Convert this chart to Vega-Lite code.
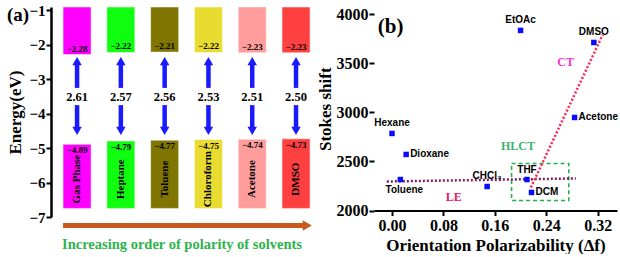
{
  "$schema": "https://vega.github.io/schema/vega-lite/v6.json",
  "padding": {"left": 6, "top": 3, "right": 0, "bottom": 0},
  "spacing": 4,
  "resolve": {"scale": {"color": "independent"}},
  "config": {
    "view": {"stroke": null},
    "font": "Liberation Serif",
    "axis": {"grid": false, "labelColor": "black", "titleColor": "black", "domainColor": "black", "tickColor": "black", "labelOverlap": false},
    "axisY": {"labelOverlap": false},
    "axisQuantitative": {"labelOverlap": false}
  },
  "datasets": {
    "levels": [
      {"solvent": "Gas Phase", "lumo": -2.28, "homo": -4.89, "gap": 2.61},
      {"solvent": "Heptane", "lumo": -2.22, "homo": -4.79, "gap": 2.57},
      {"solvent": "Toluene", "lumo": -2.21, "homo": -4.77, "gap": 2.56},
      {"solvent": "Chloroform", "lumo": -2.22, "homo": -4.75, "gap": 2.53},
      {"solvent": "Acetone", "lumo": -2.23, "homo": -4.74, "gap": 2.51},
      {"solvent": "DMSO", "lumo": -2.23, "homo": -4.73, "gap": 2.50}
    ],
    "stokes": [
      {"solvent": "Hexane", "df": 0.0, "shift": 2786},
      {"solvent": "Dioxane", "df": 0.022, "shift": 2572},
      {"solvent": "Toluene", "df": 0.013, "shift": 2316},
      {"solvent": "CHCl₃", "df": 0.148, "shift": 2245},
      {"solvent": "THF", "df": 0.21, "shift": 2316},
      {"solvent": "DCM", "df": 0.217, "shift": 2184},
      {"solvent": "Acetone", "df": 0.284, "shift": 2949},
      {"solvent": "DMSO", "df": 0.314, "shift": 3714},
      {"solvent": "EtOAc", "df": 0.2, "shift": 3837}
    ],
    "le": [{"df": -0.008, "shift": 2296}, {"df": 0.286, "shift": 2327}],
    "ct": [{"df": 0.216, "shift": 2235}, {"df": 0.328, "shift": 3796}],
    "box": [{"x1": 0.186, "x2": 0.275, "y1": 2102, "y2": 2480}],
    "notes": [
      {"label": "CT", "df": 0.27, "shift": 3510, "kind": "CT"},
      {"label": "HLCT", "df": 0.196, "shift": 2663, "kind": "HLCT"},
      {"label": "LE", "df": 0.096, "shift": 2133, "kind": "LE"}
    ]
  },
  "hconcat": [
    {
      "width": 261,
      "height": 210,
      "title": {"text": "(a)", "anchor": "start", "frame": "bounds", "offset": -22, "fontSize": 19, "font": "Liberation Serif", "fontWeight": "bold", "color": "black"},
      "data": {"name": "levels"},
      "encoding": {
        "x": {"field": "solvent", "type": "nominal", "sort": null,
          "scale": {"paddingInner": 0.36, "paddingOuter": 0.16, "align": 0.86},
          "axis": {"labels": false, "ticks": false, "domain": false, "title": "Increasing order of polarity of solvents",
            "titleColor": "#2eb34c", "titleFont": "Liberation Serif", "titleFontSize": 14.5, "titleFontWeight": "bold", "titlePadding": 20}}
      },
      "layer": [
        {
          "mark": {"type": "bar", "stroke": "#ffffff", "strokeWidth": 0.5},
          "encoding": {
            "y": {"field": "lumo", "type": "quantitative",
              "scale": {"domain": [-7, -0.9], "nice": false, "zero": false},
              "axis": {"values": [-7, -6, -5, -4, -3, -2, -1], "tickCount": 7, "labelOverlap": false, "labelSeparation": 0, "labelBound": false, "labelFlush": false, "title": "Energy(eV)", "titleFont": "Liberation Serif", "titleFontSize": 17, "titleFontWeight": "bold", "titlePadding": 4,
                "labelFont": "Liberation Serif", "labelFontSize": 15, "labelFontWeight": "bold", "domainWidth": 2.5, "tickWidth": 2, "tickSize": 5, "labelPadding": 1}},
            "y2": {"datum": -0.9},
            "color": {"field": "solvent", "type": "nominal", "legend": null,
              "scale": {"domain": ["Gas Phase", "Heptane", "Toluene", "Chloroform", "Acetone", "DMSO"],
                "range": ["#ff00ff", "#10ff10", "#7f7500", "#e8dc30", "#ff9c9c", "#ff4040"]}}
          }
        },
        {
          "mark": {"type": "bar", "stroke": "#ffffff", "strokeWidth": 0.5},
          "encoding": {
            "y": {"field": "homo", "type": "quantitative"},
            "y2": {"datum": -6.75},
            "color": {"field": "solvent", "type": "nominal", "legend": null}
          }
        },
        {
          "mark": {"type": "text", "baseline": "bottom", "dy": -1, "fontSize": 9, "fontWeight": "bold", "font": "Liberation Serif", "color": "black"},
          "encoding": {"y": {"field": "lumo", "type": "quantitative"}, "text": {"field": "lumo", "type": "quantitative", "format": ".2f"}}
        },
        {
          "mark": {"type": "text", "baseline": "top", "dy": 2, "fontSize": 9, "fontWeight": "bold", "font": "Liberation Serif", "color": "black"},
          "encoding": {"y": {"field": "homo", "type": "quantitative"}, "text": {"field": "homo", "type": "quantitative", "format": ".2f"}}
        },
        {
          "mark": {"type": "text", "angle": 270, "baseline": "middle", "align": "center", "fontSize": 11, "fontWeight": "bold", "font": "Liberation Serif", "color": "black"},
          "encoding": {"y": {"datum": -5.9, "type": "quantitative"}, "text": {"field": "solvent", "type": "nominal"}}
        },
        {
          "mark": {"type": "rule", "color": "#1a1aff", "strokeWidth": 4.5},
          "encoding": {"y": {"datum": -2.5, "type": "quantitative"}, "y2": {"datum": -3.25}}
        },
        {
          "mark": {"type": "rule", "color": "#1a1aff", "strokeWidth": 4.5},
          "encoding": {"y": {"datum": -3.75, "type": "quantitative"}, "y2": {"datum": -4.45}}
        },
        {
          "mark": {"type": "point", "shape": "triangle-up", "filled": true, "opacity": 1, "color": "#1a1aff", "size": 90},
          "encoding": {"y": {"datum": -2.47, "type": "quantitative"}}
        },
        {
          "mark": {"type": "point", "shape": "triangle-down", "filled": true, "opacity": 1, "color": "#1a1aff", "size": 90},
          "encoding": {"y": {"datum": -4.5, "type": "quantitative"}}
        },
        {
          "mark": {"type": "text", "baseline": "middle", "fontSize": 12.5, "fontWeight": "bold", "font": "Liberation Serif", "color": "black"},
          "encoding": {"y": {"datum": -3.52, "type": "quantitative"}, "text": {"field": "gap", "type": "quantitative", "format": ".2f"}}
        },
        {
          "data": {"values": [{"from": "Gas Phase", "to": "DMSO"}]},
          "mark": {"type": "rule", "color": "#c8581e", "strokeWidth": 5},
          "encoding": {
            "x": {"field": "from", "type": "nominal", "bandPosition": 0},
            "x2": {"field": "to", "bandPosition": 0.85},
            "y": {"datum": -7.25, "type": "quantitative"}
          }
        },
        {
          "data": {"values": [{"to": "DMSO"}]},
          "mark": {"type": "point", "shape": "triangle-right", "filled": true, "opacity": 1, "color": "#c8581e", "size": 110},
          "encoding": {
            "x": {"field": "to", "type": "nominal", "bandPosition": 0.9},
            "y": {"datum": -7.25, "type": "quantitative"}
          }
        }
      ]
    },
    {
      "width": 243,
      "height": 203.5,
      "encoding": {
        "x": {"field": "df", "type": "quantitative",
          "scale": {"domain": [-0.028, 0.35], "nice": false, "zero": false},
          "axis": {"values": [0, 0.08, 0.16, 0.24, 0.32], "format": ".2f", "title": "Orientation Polarizability (Δf)",
            "labelFont": "Liberation Serif", "labelFontSize": 16, "labelFontWeight": "bold",
            "titleFont": "Liberation Serif", "titleFontSize": 17, "titleFontWeight": "bold", "titlePadding": 4,
            "domainWidth": 2, "tickWidth": 2, "tickSize": 5}},
        "y": {"field": "shift", "type": "quantitative",
          "scale": {"domain": [2000, 4076], "nice": false, "zero": false},
          "axis": {"values": [2000, 2500, 3000, 3500, 4000], "format": "d", "title": "Stokes shift", "domain": false,
            "labelFont": "Liberation Serif", "labelFontSize": 16, "labelFontWeight": "bold", "labelPadding": 1,
            "titleFont": "Liberation Serif", "titleFontSize": 17, "titleFontWeight": "bold", "titlePadding": 2,
            "tickWidth": 2, "tickSize": 5}}
      },
      "layer": [
        {
          "mark": {"type": "rule", "color": "black", "strokeWidth": 2},
          "encoding": {"x": {"datum": -0.028, "type": "quantitative"}, "y": {"datum": 2000, "type": "quantitative"}, "y2": {"datum": 4000}}
        },
        {
          "mark": {"type": "rule", "color": "black", "strokeWidth": 2},
          "encoding": {"x": {"datum": 0.35, "type": "quantitative"}, "y": {"datum": 2000, "type": "quantitative"}, "y2": {"datum": 4000}}
        },
        {
          "mark": {"type": "rule", "color": "black", "strokeWidth": 2},
          "encoding": {"y": {"datum": 4000, "type": "quantitative"}, "x": {"datum": -0.028, "type": "quantitative"}, "x2": {"datum": 0.35}}
        },
        {
          "data": {"name": "box"},
          "mark": {"type": "rect", "fill": null, "stroke": "#22b14c", "strokeWidth": 1.6, "strokeDash": [4, 3]},
          "encoding": {
            "x": {"field": "x1", "type": "quantitative"},
            "x2": {"field": "x2"},
            "y": {"field": "y1", "type": "quantitative"},
            "y2": {"field": "y2"}
          }
        },
        {
          "data": {"name": "le"},
          "mark": {"type": "line", "color": "#7a1f5e", "strokeWidth": 2.5, "strokeDash": [2, 2]},
          "encoding": {}
        },
        {
          "data": {"name": "ct"},
          "mark": {"type": "line", "color": "#ff2255", "strokeWidth": 2.5, "strokeDash": [2, 2]},
          "encoding": {}
        },
        {
          "data": {"name": "stokes"},
          "mark": {"type": "point", "shape": "square", "filled": true, "opacity": 1, "color": "#0a0aff", "size": 30}
        },
        {
          "data": {"name": "stokes"},
          "transform": [{"filter": {"field": "solvent", "oneOf": ["Hexane", "EtOAc", "DMSO", "THF", "CHCl₃"]}}],
          "mark": {"type": "text", "baseline": "bottom", "dy": -5, "fontSize": 10, "fontWeight": "bold", "font": "Liberation Sans", "color": "black"},
          "encoding": {"text": {"field": "solvent", "type": "nominal"}}
        },
        {
          "data": {"name": "stokes"},
          "transform": [{"filter": {"field": "solvent", "oneOf": ["Toluene"]}}],
          "mark": {"type": "text", "baseline": "top", "dy": 5, "dx": 4, "fontSize": 10, "fontWeight": "bold", "font": "Liberation Sans", "color": "black"},
          "encoding": {"text": {"field": "solvent", "type": "nominal"}}
        },
        {
          "data": {"name": "stokes"},
          "transform": [{"filter": {"field": "solvent", "oneOf": ["Dioxane", "DCM", "Acetone"]}}],
          "mark": {"type": "text", "align": "left", "baseline": "middle", "dx": 4, "fontSize": 10, "fontWeight": "bold", "font": "Liberation Sans", "color": "black"},
          "encoding": {"text": {"field": "solvent", "type": "nominal"}}
        },
        {
          "data": {"name": "notes"},
          "mark": {"type": "text", "fontWeight": "bold", "font": "Liberation Serif", "fontSize": 12, "baseline": "middle"},
          "encoding": {
            "text": {"field": "label", "type": "nominal"},
            "color": {"field": "kind", "type": "nominal", "legend": null,
              "scale": {"domain": ["CT", "HLCT", "LE"], "range": ["#ff33cc", "#3cb371", "#e0206a"]}}
          }
        },
        {
          "data": {"values": [{"label": "(b)", "df": -0.022, "shift": 3867}]},
          "mark": {"type": "text", "align": "left", "baseline": "middle", "fontWeight": "bold", "font": "Liberation Serif", "fontSize": 21, "color": "black"},
          "encoding": {"text": {"field": "label", "type": "nominal"}}
        }
      ]
    }
  ]
}
